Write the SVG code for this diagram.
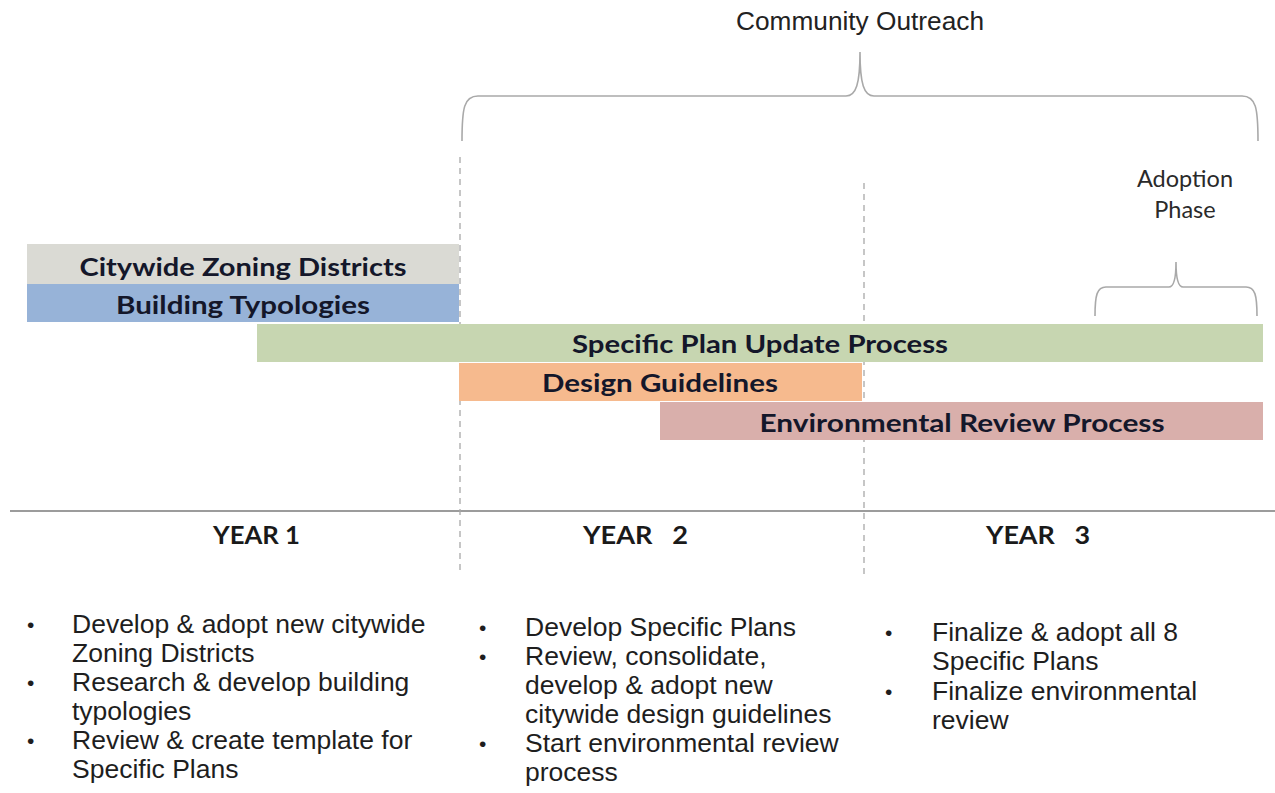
<svg xmlns="http://www.w3.org/2000/svg" width="1275" height="793" viewBox="0 0 1275 793">
  <style>
    .bar-label { font-family: Lato, "Liberation Sans", sans-serif; font-weight: 700; font-size: 25px; fill: #14172a; text-anchor: middle; }
    .year { font-family: Lato, "Liberation Sans", sans-serif; font-weight: 700; font-size: 24px; fill: #1a1a1a; }
    .note { font-family: "Liberation Sans", Arial, sans-serif; font-size: 26.5px; fill: #1e1e1e; }
    .dot { font-family: "Liberation Sans", Arial, sans-serif; font-size: 21px; fill: #1e1e1e; }
    .head { font-family: "Liberation Sans", Arial, sans-serif; font-size: 25px; fill: #222; text-anchor: middle; }
    .phase { font-family: Lato, "Liberation Sans", sans-serif; font-size: 23.5px; fill: #2a2a2a; text-anchor: middle; }
    .brace { fill: none; stroke: #a9a9a9; stroke-width: 1.6; }
    .divider { stroke: #a8a8a8; stroke-width: 1.3; stroke-dasharray: 6 5; }
  </style>

  <rect width="1275" height="793" fill="#ffffff"/>

  <!-- timeline axis and year dividers -->
  <g id="connectors">
    <line x1="10" y1="511" x2="1275" y2="511" stroke="#9c9c9c" stroke-width="2"/>
    <line class="divider" x1="460" y1="157" x2="460" y2="575"/>
    <line class="divider" x1="864" y1="183" x2="864" y2="575"/>
    <!-- community outreach brace -->
    <path class="brace" d="M462,141 C462,108 464,96 478,96 L846,96 C856,96 860,84 860,52 C860,84 864,96 874,96 L1242,96 C1256,96 1258,108 1258,141"/>
    <!-- adoption phase brace -->
    <path class="brace" d="M1095,316 C1095,295 1097,287 1106,287 L1169,287 C1174,287 1176,279 1176,262 C1176,279 1178,287 1183,287 L1246,287 C1255,287 1257,295 1257,316"/>
  </g>

  <g id="community-outreach">
    <text class="head" x="860" y="30" textLength="248" lengthAdjust="spacingAndGlyphs">Community Outreach</text>
  </g>

  <g id="adoption-phase">
    <text class="phase" x="1185" y="187">Adoption</text>
    <text class="phase" x="1185" y="218">Phase</text>
  </g>

  <g id="citywide-zoning">
    <rect x="27" y="244" width="432" height="40" fill="#dadad4"/>
    <text class="bar-label" x="243" y="276" textLength="327" lengthAdjust="spacingAndGlyphs">Citywide Zoning Districts</text>
  </g>

  <g id="building-typologies">
    <rect x="27" y="284" width="432" height="38" fill="#97b3d8"/>
    <text class="bar-label" x="243" y="314" textLength="254" lengthAdjust="spacingAndGlyphs">Building Typologies</text>
  </g>

  <g id="specific-plan-update">
    <rect x="257" y="324" width="1006" height="38" fill="#c7d6b1"/>
    <text class="bar-label" x="760" y="353" textLength="376" lengthAdjust="spacingAndGlyphs">Specific Plan Update Process</text>
  </g>

  <g id="design-guidelines">
    <rect x="459" y="363" width="403" height="38" fill="#f6ba8e"/>
    <text class="bar-label" x="660" y="392" textLength="236" lengthAdjust="spacingAndGlyphs">Design Guidelines</text>
  </g>

  <g id="environmental-review">
    <rect x="660" y="402" width="603" height="38" fill="#d9afab"/>
    <text class="bar-label" x="962" y="432" textLength="405" lengthAdjust="spacingAndGlyphs">Environmental Review Process</text>
  </g>

  <g id="year-labels">
    <text class="year" x="213" y="544" textLength="87" lengthAdjust="spacingAndGlyphs">YEAR 1</text>
    <text class="year" x="583" y="544" textLength="105" lengthAdjust="spacingAndGlyphs" xml:space="preserve">YEAR   2</text>
    <text class="year" x="986" y="544" textLength="104" lengthAdjust="spacingAndGlyphs" xml:space="preserve">YEAR   3</text>
  </g>

  <g id="year1-tasks">
    <text class="dot" x="27" y="632">•</text>
    <text class="note" x="72" y="633">Develop &amp; adopt new citywide</text>
    <text class="note" x="72" y="662">Zoning Districts</text>
    <text class="dot" x="27" y="690">•</text>
    <text class="note" x="72" y="691">Research &amp; develop building</text>
    <text class="note" x="72" y="720">typologies</text>
    <text class="dot" x="27" y="748">•</text>
    <text class="note" x="72" y="749">Review &amp; create template for</text>
    <text class="note" x="72" y="778">Specific Plans</text>
  </g>

  <g id="year2-tasks">
    <text class="dot" x="479" y="635">•</text>
    <text class="note" x="525" y="636">Develop Specific Plans</text>
    <text class="dot" x="479" y="664">•</text>
    <text class="note" x="525" y="665">Review, consolidate,</text>
    <text class="note" x="525" y="694">develop &amp; adopt new</text>
    <text class="note" x="525" y="723">citywide design guidelines</text>
    <text class="dot" x="479" y="751">•</text>
    <text class="note" x="525" y="752">Start environmental review</text>
    <text class="note" x="525" y="781">process</text>
  </g>

  <g id="year3-tasks">
    <text class="dot" x="885" y="640">•</text>
    <text class="note" x="932" y="641">Finalize &amp; adopt all 8</text>
    <text class="note" x="932" y="670">Specific Plans</text>
    <text class="dot" x="885" y="699">•</text>
    <text class="note" x="932" y="700">Finalize environmental</text>
    <text class="note" x="932" y="729">review</text>
  </g>
</svg>
